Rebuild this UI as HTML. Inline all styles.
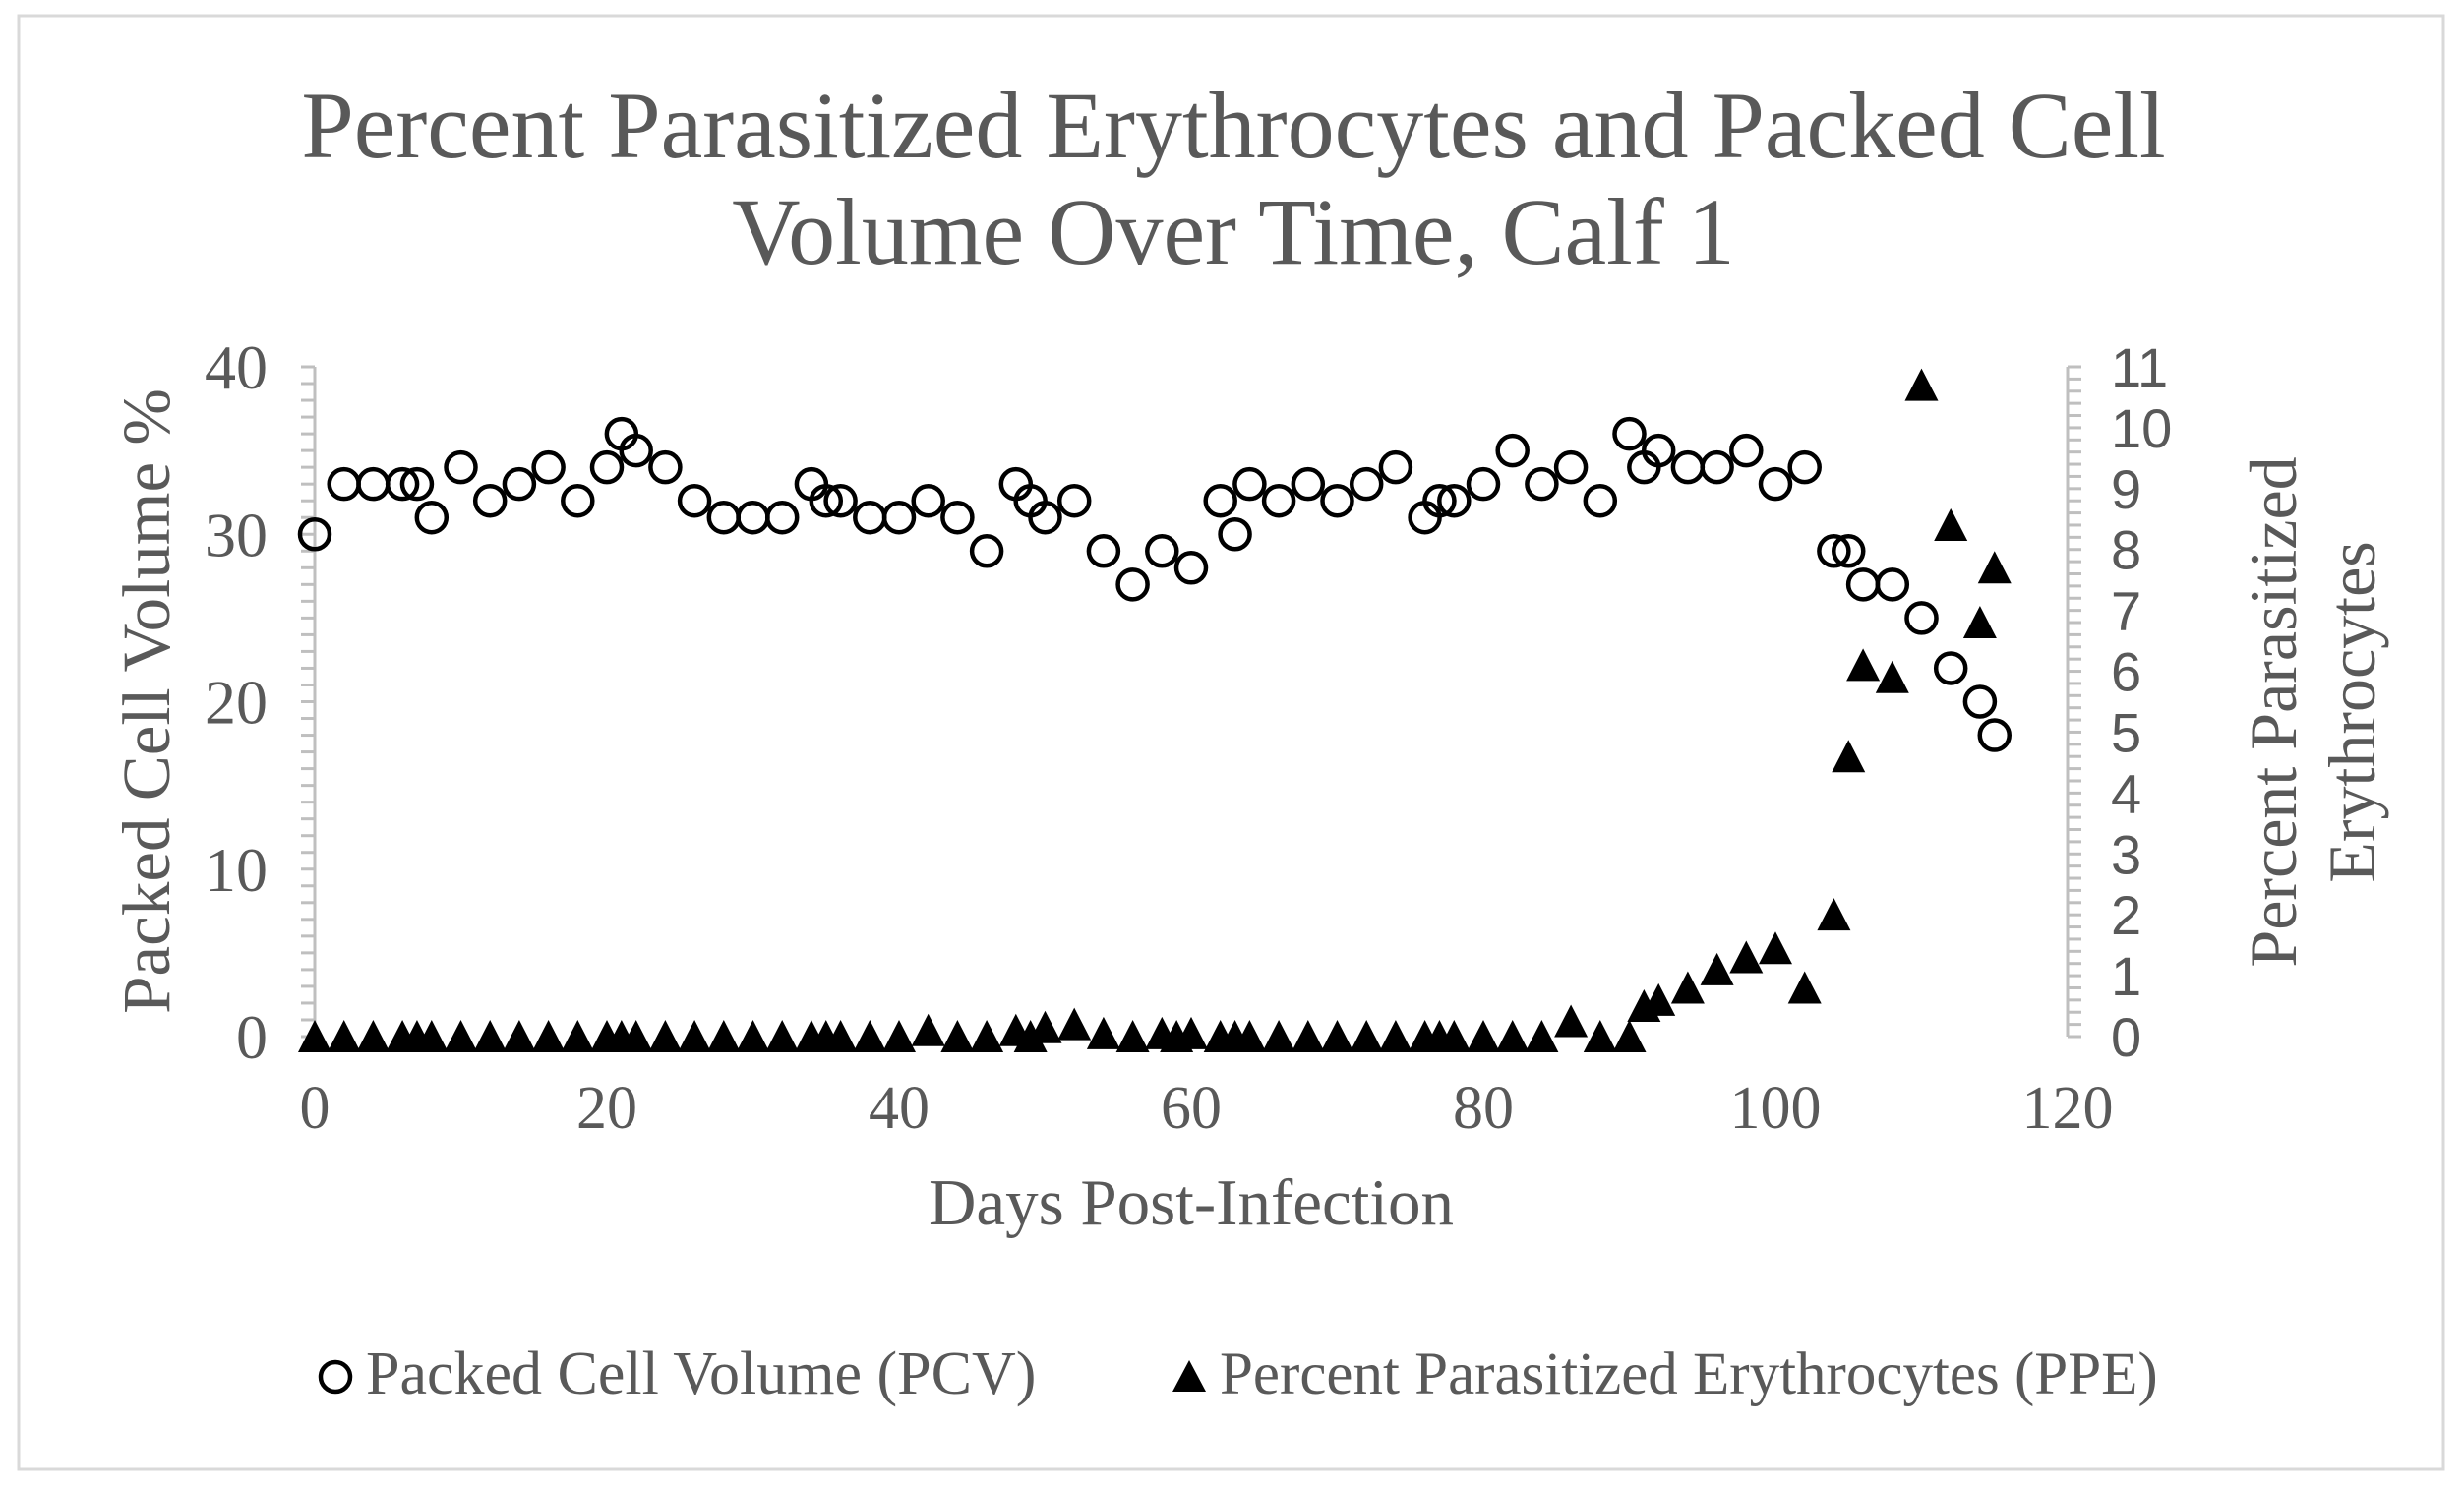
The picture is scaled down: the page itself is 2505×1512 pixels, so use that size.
<!DOCTYPE html>
<html><head><meta charset="utf-8"><style>
html,body{margin:0;padding:0;background:#fff;}
svg{display:block;font-family:"Liberation Serif",serif;}
</style></head><body>
<svg id="chart" width="2505" height="1512" viewBox="0 0 2505 1512">
<rect x="19" y="16" width="2465" height="1478" fill="#fff" stroke="#d9d9d9" stroke-width="3"/>
<text x="1254" y="160" text-anchor="middle" font-size="96" fill="#595959">Percent Parasitized Erythrocytes and Packed Cell</text>
<text x="1254" y="268" text-anchor="middle" font-size="96" fill="#595959">Volume Over Time, Calf 1</text>
<g id="axes"></g>
<g id="marks"></g>
<text transform="translate(172,713) rotate(-90)" text-anchor="middle" font-size="69" fill="#595959">Packed Cell Volume %</text>
<text transform="translate(2334,724) rotate(-90)" text-anchor="middle" font-size="68" fill="#595959">Percent Parasitized</text>
<text transform="translate(2414,724) rotate(-90)" text-anchor="middle" font-size="68" fill="#595959">Erythrocytes</text>
<text x="1211" y="1245" text-anchor="middle" font-size="67" fill="#595959">Days Post-Infection</text>
<g>
<circle cx="341" cy="1400" r="15" fill="none" stroke="#000" stroke-width="4.5"/>
<text x="372" y="1417" font-size="62" fill="#595959">Packed Cell Volume (PCV)</text>
<polygon points="1209,1383 1226,1415 1192,1415" fill="#000"/>
<text x="1240" y="1417" font-size="61" fill="#595959">Percent Parasitized Erythrocytes (PPE)</text>
</g>
</svg>
<script>
const days = [0,2,4,6,7,8,10,12,14,16,18,20,21,22,24,26,28,30,32,34,35,36,38,40,42,44,46,48,49,50,52,54,56,58,59,60,62,63,64,66,68,70,72,74,76,77,78,80,82,84,86,88,90,91,92,94,96,98,100,102,104,105,106,108,110,112,114,115];
const pcv = [30,33,33,33,33,31,34,32,33,34,32,34,36,35,34,32,31,31,31,33,32,32,31,31,32,31,29,33,32,31,32,29,27,29,null,28,32,30,33,32,33,32,33,34,31,32,32,33,35,33,34,32,36,34,35,34,34,35,33,34,29,29,27,27,25,22,20,18];
const ppe = [0,0,0,0,0,0,0,0,0,0,0,0,0,0,0,0,0,0,0,0,0,0,0,0,0.1,0,0,0.1,0,0.15,0.2,0.05,0,0.05,0,0.05,0,0,0,0,0,0,0,0,0,0,0,0,0,0,0.25,0,0,0.5,0.6,0.8,1.1,1.3,1.45,0.8,2.0,4.6,6.1,5.9,10.7,8.4,6.8,7.7];
const xTicks = [0,20,40,60,80,100,120];
const leftTicks = [0,10,20,30,40];
const rightTicks = [0,1,2,3,4,5,6,7,8,9,10,11];

const X0=320, X1=2102, Y0=1054, Y1=373;
const xs = d => X0 + (d/120)*(X1-X0);
const yl = v => Y0 - (v/40)*(Y0-Y1);
const yr = v => Y0 - (v/11)*(Y0-Y1);
const NS='http://www.w3.org/2000/svg';
const axes=document.getElementById('axes'), marks=document.getElementById('marks');
function mk(tag, attrs, parent){const e=document.createElementNS(NS,tag);for(const k in attrs)e.setAttribute(k,attrs[k]);parent.appendChild(e);return e;}

let e = mk('line',{x1:X0,y1:Y1,x2:X0,y2:Y0,stroke:'#bfbfbf','stroke-width':3},axes);


for(let v=0;v<=40;v++){
  e=mk('line',{x1:X0-14,y1:yl(v),x2:X0,y2:yl(v),stroke:'#bfbfbf','stroke-width':3},axes);
  
  
}
e = mk('line',{x1:X1,y1:Y1,x2:X1,y2:Y0,stroke:'#bfbfbf','stroke-width':3},axes);


for(let i=0;i<=55;i++){
  const v=i*0.2;
  e=mk('line',{x1:X1,y1:yr(v),x2:X1+14,y2:yr(v),stroke:'#bfbfbf','stroke-width':3},axes);
  
  
}
leftTicks.forEach(v=>{
  const t=mk('text',{x:272,y:yl(v)+22,'text-anchor':'end','font-size':64,fill:'#595959'},axes);
  t.textContent=v;
  
  
});
rightTicks.forEach(v=>{
  const t=mk('text',{x:2146,y:yr(v)+20,'font-size':56,fill:'#595959','font-family':'Liberation Sans, sans-serif'},axes);
  t.textContent=v;
  
  
});
xTicks.forEach(v=>{
  const t=mk('text',{x:xs(v),y:1147,'text-anchor':'middle','font-size':62,fill:'#595959'},axes);
  t.textContent=v;
  
  
});
days.forEach((d,i)=>{
  if(ppe[i]!==null){
    const cx=xs(d), cy=yr(ppe[i]);
    const p=mk('polygon',{points:`${cx},${cy-17} ${cx+17},${cy+16} ${cx-17},${cy+16}`,fill:'#000'},marks);
    
    
  }
});
days.forEach((d,i)=>{
  if(pcv[i]!==null){
    const c=mk('circle',{cx:xs(d),cy:yl(pcv[i]),r:15,fill:'none',stroke:'#000','stroke-width':4.5},marks);
    
    
  }
});
</script>
</body></html>
